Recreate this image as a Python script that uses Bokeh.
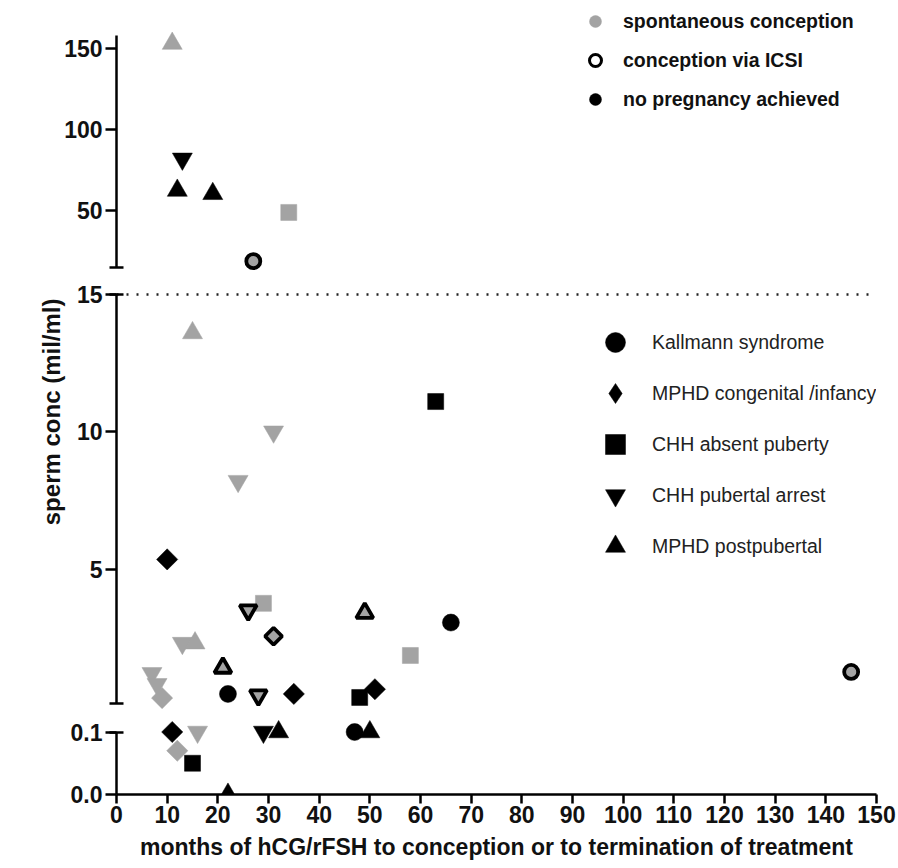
import math
from bokeh.plotting import figure
from bokeh.models import (Range1d, FixedTicker, Legend, LegendItem, Title,
                          ColumnDataSource, NumeralTickFormatter)
from bokeh.layouts import column
from bokeh.embed import file_html
from bokeh.resources import INLINE

# ---------------- data ----------------
months = [11, 13, 12, 19, 34, 27,
          15, 31, 24, 63, 10, 29, 26, 31, 49, 66, 58, 13, 15.5, 21, 7, 8, 9,
          22, 28, 35, 48, 51, 145,
          11, 16, 29, 32, 47, 50, 12, 15, 22]
sperm_conc = [153, 82, 62.5, 60.5, 49, 19,
              13.6, 10.0, 8.2, 11.1, 5.35, 3.75, 3.5, 2.55, 3.4, 3.05, 1.85, 2.3, 2.3, 1.4, 1.2, 0.8, 0.3,
              0.45, 0.4, 0.45, 0.32, 0.62, 1.25,
              0.1, 0.1, 0.1, 0.1, 0.1, 0.1, 0.07, 0.05, 0.0]
diagnosis = ["MPHD-P", "CHH-P", "MPHD-P", "MPHD-P", "CHH-A", "KS",
             "MPHD-P", "CHH-P", "CHH-P", "CHH-A", "MPHD-C", "CHH-A", "CHH-P", "MPHD-C", "MPHD-P", "KS",
             "CHH-A", "CHH-P", "MPHD-P", "MPHD-P", "CHH-P", "CHH-P", "MPHD-C",
             "KS", "CHH-P", "MPHD-C", "CHH-A", "MPHD-C", "KS",
             "MPHD-C", "CHH-P", "CHH-P", "MPHD-P", "KS", "MPHD-P", "MPHD-C", "CHH-A", "MPHD-P"]
outcome = ["spont", "none", "none", "none", "spont", "icsi",
           "spont", "spont", "spont", "none", "none", "spont", "icsi", "icsi", "icsi", "none",
           "spont", "spont", "spont", "icsi", "spont", "spont", "spont",
           "none", "icsi", "none", "none", "none", "icsi",
           "none", "spont", "none", "none", "none", "none", "spont", "none", "none"]

diag_names = {"KS": "Kallmann syndrome", "MPHD-C": "MPHD congenital /infancy",
              "CHH-A": "CHH absent puberty", "CHH-P": "CHH pubertal arrest",
              "MPHD-P": "MPHD postpubertal"}
outcome_names = {"spont": "spontaneous conception", "icsi": "conception via ICSI",
                 "none": "no pregnancy achieved"}
x_ticks = list(range(0, 151, 10))

# ---------------- styles ----------------
GRAY = "#a3a3a3"
FONT = "Liberation Sans"
TICK_FONT = "Liberation Sans"
marker_of = {"KS": "circle", "MPHD-C": "square", "CHH-A": "square",
             "CHH-P": "inverted_triangle", "MPHD-P": "triangle"}
angle_of = {"KS": 0, "MPHD-C": math.pi / 4, "CHH-A": 0, "CHH-P": 0, "MPHD-P": 0}
size_of = {"KS": 17, "MPHD-C": 15, "CHH-A": 16, "CHH-P": 20, "MPHD-P": 20}


def seg_source(lo, hi):
    d = dict(x=[], y=[], marker=[], angle=[], size=[], fill=[], line=[], lw=[])
    for xv, yv, dg, oc in zip(months, sperm_conc, diagnosis, outcome):
        if not (lo < yv <= hi or (lo == -1 and yv <= hi)):
            continue
        d["x"].append(xv)
        d["y"].append(yv)
        d["marker"].append(marker_of[dg])
        d["angle"].append(angle_of[dg])
        if oc == "icsi":
            d["size"].append(size_of[dg] - 3)
            d["fill"].append(GRAY)
            d["line"].append("black")
            d["lw"].append(3.8)
        elif oc == "spont":
            d["size"].append(size_of[dg])
            d["fill"].append(GRAY)
            d["line"].append(GRAY)
            d["lw"].append(0.5)
        else:
            d["size"].append(size_of[dg])
            d["fill"].append("black")
            d["line"].append("black")
            d["lw"].append(0.5)
    return ColumnDataSource(d)


xr = Range1d(0, 150)


def make_fig(fh, y0, y1, top=0, bottom=0, with_x=False):
    p = figure(frame_width=760, frame_height=fh, x_range=xr, y_range=Range1d(y0, y1),
               x_axis_type="linear" if with_x else None,
               toolbar_location=None, output_backend="svg",
               min_border_left=116, min_border_right=22, min_border_top=top,
               min_border_bottom=bottom,
               outline_line_color=None, background_fill_color="white")
    p.grid.visible = False
    ax = p.yaxis[0]
    ax.axis_line_width = 2.5
    ax.axis_line_color = "black"
    ax.major_tick_line_width = 2.5
    ax.major_tick_line_color = "black"
    ax.major_tick_out = 11
    ax.major_tick_in = 0
    ax.minor_tick_line_width = 2.5
    ax.minor_tick_line_color = "black"
    ax.minor_tick_in = 7
    ax.minor_tick_out = 7
    ax.major_label_standoff = 3
    ax.major_label_text_font = TICK_FONT
    ax.major_label_text_font_style = "bold"
    ax.major_label_text_font_size = "23px"
    ax.major_label_text_color = "#111111"
    return p


def draw(p, src):
    p.scatter(x="x", y="y", marker="marker", angle="angle", size="size",
              fill_color="fill", line_color="line", line_width="lw", source=src)


# ---- top segment (15 .. 158) ----
p_top = make_fig(272, 7.08, 174.6, top=8)
p_top.yaxis[0].ticker = FixedTicker(ticks=[50, 100, 150], minor_ticks=[15])
p_top.yaxis[0].bounds = (15, 158)
draw(p_top, seg_source(15, 1e9))

nan = float("nan")
r_sp = p_top.scatter([nan], [nan], marker="circle", fill_color=GRAY, line_color=GRAY, line_width=0.5)
r_ic = p_top.scatter([nan], [nan], marker="circle", fill_color="white", line_color="black", line_width=3)
r_no = p_top.scatter([nan], [nan], marker="circle", fill_color="black", line_color="black", line_width=0.5)
leg1 = Legend(items=[LegendItem(label=outcome_names["spont"], renderers=[r_sp]),
                     LegendItem(label=outcome_names["icsi"], renderers=[r_ic]),
                     LegendItem(label=outcome_names["none"], renderers=[r_no])],
              location=(464, 166), glyph_width=30, glyph_height=30, spacing=9,
              label_standoff=13, padding=0, margin=0, border_line_color=None,
              background_fill_alpha=0, label_text_font=FONT, label_text_font_style="bold",
              label_text_font_size="19.5px", label_text_color="#111111")
p_top.add_layout(leg1)

# ---- middle segment (0.1 .. 15) ----
p_mid = make_fig(434, -0.30, 15.51)
p_mid.yaxis[0].ticker = FixedTicker(ticks=[5, 10, 15], minor_ticks=[0.1, 15])
p_mid.yaxis[0].bounds = (0.1, 15)
p_mid.hspan(y=[15], line_color="#222222", line_width=2.5, line_dash="2 8")
draw(p_mid, seg_source(0.1, 15))

proxies = []
for key in ["KS", "MPHD-C", "CHH-A", "CHH-P", "MPHD-P"]:
    mk = "diamond" if key == "MPHD-C" else marker_of[key]
    r = p_mid.scatter([nan], [nan], marker=mk, fill_color="black", line_color="black", line_width=0.5)
    proxies.append(LegendItem(label=diag_names[key], renderers=[r]))
leg2 = Legend(items=proxies, location=(474, 143), glyph_width=50, glyph_height=50, spacing=1,
              label_standoff=12, padding=0, margin=0, border_line_color=None,
              background_fill_alpha=0, label_text_font=FONT, label_text_font_size="19.5px",
              label_text_color="#222222")
p_mid.add_layout(leg2)

ytitle = Title(text="sperm conc (mil/ml)", align="right", offset=18, standoff=18,
               text_font=FONT, text_font_style="bold", text_font_size="24px",
               text_color="#111111")
p_mid.add_layout(ytitle, "left")

# ---- bottom segment (0 .. 0.1) ----
p_bot = make_fig(80, 0, 0.128, bottom=74, with_x=True)
p_bot.yaxis[0].ticker = FixedTicker(ticks=[0, 0.1], minor_ticks=[0.1])
p_bot.yaxis[0].bounds = (0, 0.1)
p_bot.yaxis[0].formatter = NumeralTickFormatter(format="0.0")
xa = p_bot.xaxis[0]
xa.bounds = (0, 150)
xa.ticker = FixedTicker(ticks=x_ticks, minor_ticks=[])
xa.axis_line_width = 2.5
xa.axis_line_color = "black"
xa.major_tick_line_width = 2.5
xa.major_tick_line_color = "black"
xa.major_tick_out = 9
xa.major_tick_in = 0
xa.minor_tick_out = 0
xa.minor_tick_in = 0
xa.major_label_standoff = 2
xa.major_label_text_font = TICK_FONT
xa.major_label_text_font_style = "bold"
xa.major_label_text_font_size = "23px"
xa.major_label_text_color = "#111111"
xa.axis_label = "months of hCG/rFSH to conception or to termination of treatment"
xa.axis_label_standoff = 8
xa.axis_label_text_font = FONT
xa.axis_label_text_font_style = "bold"
xa.axis_label_text_font_size = "23px"
xa.axis_label_text_color = "#111111"
draw(p_bot, seg_source(-1, 0.1))

layout = column(p_top, p_mid, p_bot, spacing=0)
open("out.html", "w").write(file_html(layout, INLINE))
